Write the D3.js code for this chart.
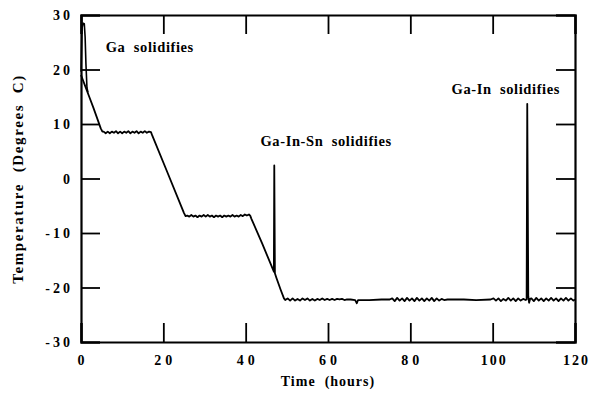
<!DOCTYPE html>
<html><head><meta charset="utf-8">
<script src="https://cdn.jsdelivr.net/npm/d3@7"></script>
<style>body{margin:0;background:#fff}</style></head>
<body><svg id="c" width="591" height="396"></svg>
<script>
const xTicks = [0, 20, 40, 60, 80, 100, 120];
const yTicks = [-30, -20, -10, 0, 10, 20, 30];
const xTitle = "Time  (hours)";
const yTitle = "Temperature  (Degrees  C)";
const annotations = [
  {text: "Ga  solidifies", t: 6.0, v: 23.2},
  {text: "Ga-In-Sn  solidifies", t: 43.6, v: 5.9},
  {text: "Ga-In  solidifies", t: 90.0, v: 15.5}
];

// Ga spike at the start (hours, deg C)
const gaSpike = [[0.02,19.6],[0.25,27.6],[0.5,28.5],[0.8,28.4],[1.0,26.0],[1.2,21.0],[1.45,16.6],[1.7,15.8]];
// Main trace, segment by segment
const cooling1 = [[0,19.0],[1,17.0],[2,15.0],[3,13.0],[4,10.9],[4.8,9.2],[5.2,8.6]];
const plateau1 = [[5.5,8.6],[6.0,8.3],[6.5,8.6],[7.0,8.3],[7.5,8.6],[8.0,8.4],[8.5,8.7],[9.0,8.3],[9.5,8.6],[10.0,8.3],[10.5,8.6],[11.0,8.4],[11.5,8.7],[12.0,8.3],[12.5,8.6],[13.0,8.4],[13.5,8.7],[14.0,8.3],[14.5,8.6],[15.0,8.4],[15.5,8.7],[16.0,8.4],[16.5,8.6],[17.0,8.5]];
const cooling2 = [[17.3,7.9],[21.0,1.1],[25.0,-6.3],[25.4,-6.9]];
const plateau2 = [[25.8,-6.8],[26.3,-7.0],[26.8,-6.7],[27.3,-7.0],[27.8,-6.8],[28.3,-7.1],[28.8,-6.8],[29.3,-7.0],[29.8,-6.7],[30.3,-7.0],[30.8,-6.7],[31.3,-7.0],[31.8,-6.8],[32.3,-7.1],[32.8,-6.8],[33.3,-7.0],[33.8,-6.8],[34.3,-7.1],[34.8,-6.8],[35.3,-7.0],[35.8,-6.8],[36.3,-7.0],[36.8,-6.7],[37.3,-7.0],[37.8,-6.8],[38.3,-7.0],[38.8,-6.7],[39.3,-6.9],[39.8,-6.6],[40.3,-6.8],[40.8,-6.6],[41.1,-6.8]];
const cooling3 = [[41.4,-7.4],[44.0,-11.9],[46.85,-17.1],[46.95,2.4],[47.1,-17.4],[47.5,-18.3],[48.5,-20.4],[49.3,-22.0]];
const plateau3a = [[49.6,-22.3],[50.2,-22.0],[50.8,-22.4],[51.4,-22.0],[52.0,-22.4],[52.6,-22.1],[53.2,-22.4],[53.8,-22.0],[54.4,-22.3],[55.0,-22.0],[55.6,-22.4],[56.2,-22.1],[56.8,-22.4],[57.4,-22.1],[58.0,-22.3],[58.6,-22.0],[59.2,-22.3],[59.8,-22.1],[60.4,-22.3],[61.0,-22.1],[61.6,-22.3],[62.2,-22.1],[62.8,-22.2],[63.4,-22.1],[64.0,-22.3],[64.6,-22.2]];
const plateau3b = [[65.5,-22.2],[66.6,-22.3],[67.0,-22.9],[67.3,-22.3],[70.0,-22.3],[73.0,-22.2],[75.0,-22.2]];
const plateau3c = [[75.6,-22.0],[76.2,-22.5],[76.8,-21.9],[77.4,-22.4],[78.0,-22.0],[78.6,-22.5],[79.2,-21.9],[79.8,-22.4],[80.4,-22.0],[81.0,-22.5],[81.6,-21.9],[82.2,-22.4],[82.8,-22.0],[83.4,-22.5],[84.0,-22.0],[84.6,-22.4],[85.2,-21.9],[85.8,-22.5],[86.4,-22.0],[87.0,-22.4],[87.6,-22.1],[88.2,-22.3]];
const plateau3d = [[89.0,-22.2],[93.0,-22.2],[96.0,-22.3],[99.5,-22.2]];
const plateau3e = [[100.2,-22.0],[100.8,-22.4],[101.4,-22.0],[102.0,-22.5],[102.6,-22.1],[103.2,-22.4],[103.8,-21.9],[104.4,-22.4],[105.0,-22.0],[105.6,-22.5],[106.2,-22.0],[106.8,-22.4],[107.4,-22.1],[108.0,-22.3]];
const gaInSpike = [[108.25,-22.2],[108.4,13.7],[108.65,-21.6],[108.85,-22.8],[109.1,-22.1]];
const plateau3f = [[109.4,-22.0],[110.0,-22.5],[110.6,-21.9],[111.2,-22.4],[111.8,-22.0],[112.4,-22.5],[113.0,-22.0],[113.6,-22.4],[114.2,-21.9],[114.8,-22.4],[115.4,-22.0],[116.0,-22.5],[116.6,-22.0],[117.2,-22.4],[117.8,-21.9],[118.4,-22.4],[119.0,-22.0],[119.6,-22.4],[120.0,-22.2]];

const mainTrace = [].concat(cooling1, plateau1, cooling2, plateau2, cooling3,
  plateau3a, plateau3b, plateau3c, plateau3d, plateau3e, gaInSpike, plateau3f);

const L = 81, R = 575, T = 15, B = 342;
const x = d3.scaleLinear().domain([0, 120]).range([L, R]);
const y = d3.scaleLinear().domain([-30, 30]).range([B, T]);
const svg = d3.select("#c");
const font = "'Liberation Serif','Times New Roman',serif";

const line = d3.line().x(d => x(d[0])).y(d => y(d[1]));

// data
svg.append("path").datum(mainTrace).attr("d", line)
  .attr("fill", "none").attr("stroke", "#000").attr("stroke-width", 1.8).attr("stroke-linejoin", "round");
svg.append("path").datum(gaSpike).attr("d", line)
  .attr("fill", "none").attr("stroke", "#000").attr("stroke-width", 1.6).attr("stroke-linejoin", "round");

// axes with inward ticks
const tl = 19;
const gB = svg.append("g").attr("transform", `translate(0,${B})`)
  .call(d3.axisBottom(x).tickValues(xTicks).tickSize(-tl).tickFormat(""));
const gT = svg.append("g").attr("transform", `translate(0,${T})`)
  .call(d3.axisTop(x).tickValues(xTicks).tickSize(-tl).tickFormat(""));
const gL = svg.append("g").attr("transform", `translate(${L},0)`)
  .call(d3.axisLeft(y).tickValues(yTicks).tickSize(-tl).tickFormat(""));
const gR = svg.append("g").attr("transform", `translate(${R},0)`)
  .call(d3.axisRight(y).tickValues(yTicks).tickSize(-tl).tickFormat(""));
[gB, gT, gL, gR].forEach(g => {
  g.select(".domain").attr("stroke", "#000").attr("stroke-width", 2.2);
  g.selectAll(".tick line").attr("stroke", "#000").attr("stroke-width", 1.8);
});

// tick labels
svg.append("g").selectAll("text").data(xTicks).join("text")
  .attr("x", d => x(d) + (String(d).length > 2 ? 1.5 : 2))
  .attr("y", 365)
  .attr("text-anchor", "middle")
  .attr("font-family", font).attr("font-weight", "bold").attr("font-size", 14)
  .attr("letter-spacing", d => String(d).length > 2 ? 2 : 4)
  .text(d => d);
svg.append("g").selectAll("text").data(yTicks).join("text")
  .attr("x", 73).attr("y", d => y(d) + 5)
  .attr("text-anchor", "end")
  .attr("font-family", font).attr("font-weight", "bold").attr("font-size", 14)
  .attr("letter-spacing", 3)
  .text(d => d);

// titles
svg.append("text").attr("x", 328).attr("y", 386).attr("text-anchor", "middle")
  .attr("font-family", font).attr("font-weight", "bold").attr("font-size", 14)
  .attr("letter-spacing", 1).style("white-space", "pre").text(xTitle);
svg.append("text").attr("transform", "translate(23,179) rotate(-90)").attr("text-anchor", "middle")
  .attr("font-family", font).attr("font-weight", "bold").attr("font-size", 15)
  .attr("letter-spacing", 1.6).style("white-space", "pre").text(yTitle);

// annotations
svg.append("g").selectAll("text").data(annotations).join("text")
  .attr("x", d => x(d.t)).attr("y", d => y(d.v))
  .attr("font-family", font).attr("font-weight", "bold").attr("font-size", 14.5)
  .attr("letter-spacing", 0.6).style("white-space", "pre")
  .text(d => d.text);
</script></body></html>
